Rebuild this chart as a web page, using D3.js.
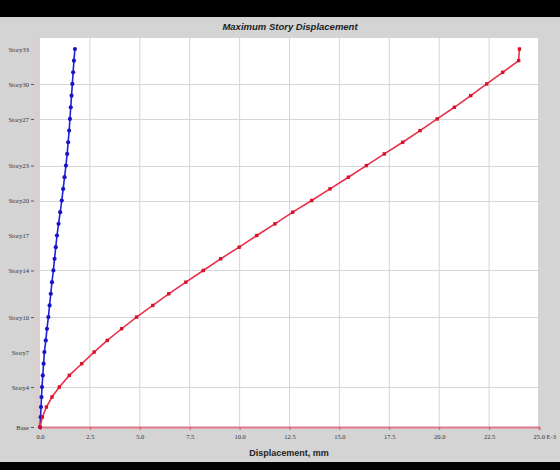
<!DOCTYPE html>
<html>
<head>
<meta charset="utf-8">
<script src="https://cdn.jsdelivr.net/npm/d3@7"></script>
<style>
  html, body { margin: 0; padding: 0; background: #d4d4d4; }
  svg { display: block; }
</style>
</head>
<body>
<svg id="chart" width="560" height="470"></svg>
<script>
// ---------- DATA ----------
const stories = ["Base","Story1","Story2","Story3","Story4","Story5","Story6","Story7","Story8","Story9","Story10",
  "Story11","Story12","Story13","Story14","Story15","Story16","Story17","Story18","Story19","Story20",
  "Story21","Story22","Story23","Story24","Story25","Story26","Story27","Story28","Story29","Story30",
  "Story31","Story32","Story33"];
const elevations = [0,3,6,9,12,15.5,19,22.5,26,29.5,33,
  36.5,40,43.5,47,50.5,54,57.5,61,64.5,68,
  71.5,75,78.5,82,85.5,89,92.5,96,99.5,103,
  106.5,110,113.5];
// displacement, E-3 mm
const dispBlue = [0,0.03,0.05,0.075,0.10,0.14,0.18,0.22,0.29,0.35,0.42,
  0.48,0.54,0.60,0.67,0.73,0.79,0.85,0.93,1.01,1.09,
  1.16,1.23,1.30,1.36,1.41,1.46,1.50,1.54,1.58,1.62,
  1.66,1.70,1.75];
const dispRed = [0,0.12,0.32,0.60,0.97,1.47,2.09,2.71,3.37,4.09,4.84,
  5.65,6.45,7.31,8.18,9.05,9.98,10.86,11.77,12.66,13.61,
  14.53,15.45,16.35,17.25,18.17,19.04,19.90,20.76,21.58,22.38,
  23.18,23.98,24.02];
const yLabelStories = ["Story33","Story30","Story27","Story23","Story20","Story17","Story14","Story10","Story7","Story4","Base"];
const gridStories = ["Story30","Story27","Story23","Story20","Story14","Story10","Story4","Base"];
const xTicks = [0,2.5,5,7.5,10,12.5,15,17.5,20,22.5,25];
const xTickLabels = ["0.0","2.5","5.0","7.5","10.0","12.5","15.0","17.5","20.0","22.5","25.0 E-3"];
const chartTitle = "Maximum Story Displacement";
const xTitle = "Displacement, mm";

// ---------- LAYOUT ----------
const svg = d3.select("#chart");
const W = 560, H = 470;
const plot = {left: 40, top: 38, right: 538, bottom: 427};

svg.append("rect").attr("x",0).attr("y",0).attr("width",W).attr("height",H).attr("fill","#d4d4d4");
svg.append("rect").attr("x",0).attr("y",0).attr("width",W).attr("height",17).attr("fill","#000");
svg.append("rect").attr("x",0).attr("y",462).attr("width",W).attr("height",8).attr("fill","#000");
svg.append("rect").attr("x",33).attr("y",plot.top).attr("width",7).attr("height",plot.bottom-plot.top).attr("fill","#d8cfcf");

// title
svg.append("text").attr("x",290).attr("y",30).attr("text-anchor","middle")
  .attr("font-family","Liberation Sans, Arial, sans-serif").attr("font-size",9.5)
  .attr("font-style","italic").attr("font-weight","bold").attr("fill","#222").text(chartTitle);

// plot background
svg.append("rect").attr("x",plot.left).attr("y",plot.top)
  .attr("width",plot.right-plot.left).attr("height",plot.bottom-plot.top).attr("fill","#fff");

const x = d3.scaleLinear().domain([0,25]).range([40,539]);
const y = d3.scaleLinear().domain([0,113.5]).range([427,49]);
const elevOf = name => elevations[stories.indexOf(name)];

// grid
svg.append("g").selectAll("line").data(xTicks.slice(1,-1)).join("line")
  .attr("x1",d=>x(d)).attr("x2",d=>x(d)).attr("y1",plot.top).attr("y2",plot.bottom)
  .attr("stroke","#d6d6d6").attr("stroke-width",1);
svg.append("g").selectAll("line").data(gridStories.filter(s=>s!=="Base")).join("line")
  .attr("x1",plot.left).attr("x2",plot.right).attr("y1",d=>Math.round(y(elevOf(d)))+0.5).attr("y2",d=>Math.round(y(elevOf(d)))+0.5)
  .attr("stroke","#d6d6d6").attr("stroke-width",1);

// x axis
const xAxis = d3.axisBottom(x).tickValues(xTicks).tickSize(3).tickPadding(4)
  .tickFormat((d,i)=>xTickLabels[i]);
const gx = svg.append("g").attr("transform",`translate(0,${plot.bottom})`).call(xAxis);
gx.select(".domain").attr("stroke","#e07a8a").attr("stroke-width",2);
gx.selectAll(".tick line").attr("stroke","#d05a6a");
gx.selectAll(".tick text").attr("font-family","Liberation Serif, Times New Roman, serif")
  .attr("font-size",6.5).attr("fill","#333");
gx.selectAll(".tick text").filter((d,i)=>i===xTicks.length-1).attr("text-anchor","start").attr("dx",-6);

// y axis
const yAxis = d3.axisLeft(y).tickValues(yLabelStories.map(elevOf)).tickSize(3).tickPadding(2)
  .tickFormat(d=>stories[elevations.indexOf(d)]);
const gy = svg.append("g").attr("transform",`translate(${34},0)`).call(yAxis);
gy.select(".domain").remove();
gy.selectAll(".tick line").attr("stroke","#555")
  .attr("opacity",d=>gridStories.includes(stories[elevations.indexOf(d)]) ? 1 : 0);
gy.selectAll(".tick text").attr("font-family","Liberation Serif, Times New Roman, serif")
  .attr("font-size",6.5).attr("fill","#333");

// x title
svg.append("text").attr("x",289).attr("y",456).attr("text-anchor","middle")
  .attr("font-family","Liberation Sans, Arial, sans-serif").attr("font-size",9)
  .attr("font-weight","bold").attr("fill","#222").text(xTitle);

// series
const line = d3.line().x(d=>x(d[0])).y(d=>y(d[1]));
const blue = dispBlue.map((v,i)=>[v,elevations[i]]);
const red = dispRed.map((v,i)=>[v,elevations[i]]);

svg.append("path").datum(blue).attr("d",line).attr("fill","none")
  .attr("stroke","#2020d8").attr("stroke-width",1.6);
svg.append("g").selectAll("circle").data(blue).join("circle")
  .attr("cx",d=>x(d[0])).attr("cy",d=>y(d[1])).attr("r",2.1).attr("fill","#1515c8");

svg.append("path").datum(red).attr("d",line).attr("fill","none")
  .attr("stroke","#e8304a").attr("stroke-width",1.6);
svg.append("g").selectAll("rect").data(red).join("rect")
  .attr("x",d=>x(d[0])-1.7).attr("y",d=>y(d[1])-1.7).attr("width",3.4).attr("height",3.4).attr("fill","#d81028");
</script>
</body>
</html>
